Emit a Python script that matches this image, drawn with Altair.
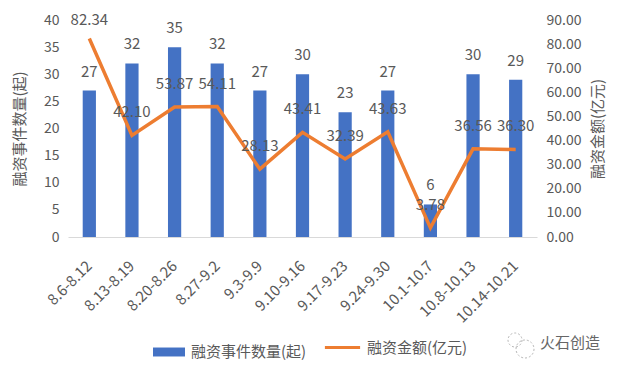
import altair as alt
import pandas as pd

periods = ["8.6-8.12", "8.13-8.19", "8.20-8.26", "8.27-9.2", "9.3-9.9", "9.10-9.16",
           "9.17-9.23", "9.24-9.30", "10.1-10.7", "10.8-10.13", "10.14-10.21"]
counts = [27, 32, 35, 32, 27, 30, 23, 27, 6, 30, 29]
amounts = [82.34, 42.10, 53.87, 54.11, 28.13, 43.41, 32.39, 43.63, 3.78, 36.56, 36.30]

bar_name = "融资事件数量(起)"
line_name = "融资金额(亿元)"
BLUE = "#4472C4"
ORANGE = "#ED7D31"
GRAY = "#595959"
FONT = "Noto Sans CJK SC"

df = pd.DataFrame({
    "period": periods,
    "count": counts,
    "amount": amounts,
    "count_label": [str(c) for c in counts],
    "amount_label": [f"{a:.2f}" for a in amounts],
    "s_bar": bar_name,
    "s_line": line_name,
})

x = alt.X("period:N", sort=periods, title=None,
          scale=alt.Scale(paddingInner=0.69, paddingOuter=0.345),
          axis=alt.Axis(labelAngle=315, labelAlign="right", labelBaseline="middle",
                        labelPadding=26, ticks=False, domainColor="#d9d9d9",
                        labelColor=GRAY, labelFontSize=15, labelFont=FONT))

y_left = alt.Y("count:Q", title=bar_name,
               scale=alt.Scale(domain=[0, 40]),
               axis=alt.Axis(values=list(range(0, 41, 5)), grid=False, ticks=False, domain=False,
                             labelColor=GRAY, labelFontSize=14, labelFont=FONT, labelPadding=9,
                             titleColor=GRAY, titleFontSize=15, titleFont=FONT, titleFontWeight="normal",
                             titlePadding=16))

y_right = alt.Y("amount:Q", title=line_name,
                scale=alt.Scale(domain=[0, 90]),
                axis=alt.Axis(orient="right", values=list(range(0, 91, 10)), format=".2f",
                              grid=False, ticks=False, domain=False,
                              labelColor=GRAY, labelFontSize=14, labelFont=FONT, labelPadding=9,
                              titleColor=GRAY, titleFontSize=15, titleFont=FONT, titleFontWeight="normal",
                              titleAngle=270, titleBaseline="top", titlePadding=10))

base = alt.Chart(df)

bars = base.mark_bar(color=BLUE).encode(
    x=x, y=y_left,
    fill=alt.Fill("s_bar:N", scale=alt.Scale(range=[BLUE]),
                  legend=alt.Legend(title=None, orient="none", legendX=85, legendY=316,
                                    symbolType="M-1,-0.28H1V0.28H-1Z",
                                    symbolSize=1024, symbolStrokeWidth=0, labelFontSize=15,
                                    labelOffset=6, labelFont=FONT, labelColor=GRAY)),
)
bar_text = base.mark_text(fontSize=15, font=FONT, color=GRAY, baseline="middle", dy=-19).encode(
    x=x, y=y_left, text="count_label:N")

left = alt.layer(bars, bar_text)

line = base.mark_line(color=ORANGE, strokeWidth=3.5).encode(
    x=x, y=y_right,
    stroke=alt.Stroke("s_line:N", scale=alt.Scale(range=[ORANGE]),
                      legend=alt.Legend(title=None, orient="none", legendX=257, legendY=310,
                                        symbolType="M-1.1,0H1.1",
                                        symbolSize=1024, symbolStrokeWidth=3, labelFontSize=15,
                                        labelOffset=7, labelFont=FONT, labelColor=GRAY)),
)
line_text = base.transform_filter("datum.amount < 80").mark_text(
    fontSize=15, font=FONT, color=GRAY, baseline="middle", dy=-23
).encode(x=x, y=y_right, text="amount_label:N")
line_text_top = base.transform_filter("datum.amount >= 80").mark_text(
    fontSize=15, font=FONT, color=GRAY, baseline="middle", dy=-18
).encode(x=x, y=y_right, text="amount_label:N")

right = alt.layer(line, line_text, line_text_top)

brand = alt.Chart(pd.DataFrame({"t": ["火石创造"]})).mark_text(
    fontSize=15, font=FONT, color="#666666", align="center", baseline="middle"
).encode(x=alt.value(502), y=alt.value(323), text="t:N")

icon_big = alt.Chart(pd.DataFrame({"t": [1]})).mark_point(
    shape="circle", filled=False, color="#999999", strokeWidth=1, strokeDash=[2, 2]
).encode(x=alt.value(457), y=alt.value(329), size=alt.value(324))
icon_small = alt.Chart(pd.DataFrame({"t": [1]})).mark_point(
    shape="circle", filled=False, color="#999999", strokeWidth=1, strokeDash=[2, 2]
).encode(x=alt.value(447), y=alt.value(320), size=alt.value(196))

chart = alt.layer(left, right, brand, icon_big, icon_small).resolve_scale(
    y="independent", fill="independent", stroke="independent"
).properties(
    width=469, height=217,
    autosize=alt.AutoSizeParams(type="none"),
    padding={"left": 60, "top": 12, "right": 75, "bottom": 125},
).configure_view(stroke=None)

chart.save("out.html", embed_options={"renderer": "svg", "actions": False})
